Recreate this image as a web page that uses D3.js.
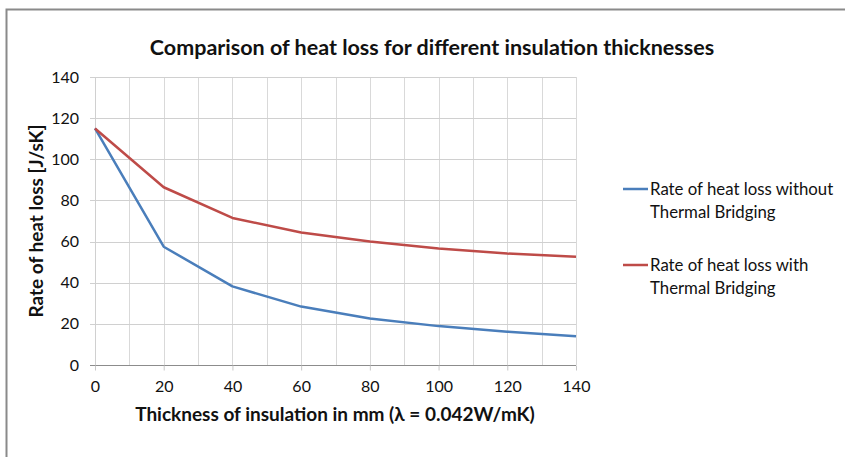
<!DOCTYPE html>
<html>
<head>
<meta charset="utf-8">
<script src="https://cdn.jsdelivr.net/npm/d3@7"></script>
<style>
  body { margin: 0; background: #fff; }
  text { font-family: Lato, "Open Sans", sans-serif; fill: #111; }
</style>
</head>
<body>
<div id="chart"></div>
<script>
// thickness of insulation (mm)
var thickness = [0, 20, 40, 60, 80, 100, 120, 140];
// rate of heat loss (J/sK)
var withoutBridging = [115, 57.5, 38.2, 28.4, 22.6, 18.9, 16.2, 14.0];
var withBridging = [115, 86.4, 71.5, 64.4, 60.0, 56.6, 54.2, 52.6];

var seriesNames = ["Rate of heat loss without Thermal Bridging", "Rate of heat loss with Thermal Bridging"];
var seriesColors = ["#4a7ebb", "#be4b48"];
var xTicks = [0, 20, 40, 60, 80, 100, 120, 140];
var yTicks = [0, 20, 40, 60, 80, 100, 120, 140];

var width = 845, height = 457;
var margin = {top: 77, left: 95, right: 269, bottom: 92};

var svg = d3.select("#chart").append("svg")
    .attr("width", width)
    .attr("height", height);

// frame border
svg.append("path")
    .attr("d", "M6.5," + height + "V9.5H" + width)
    .attr("fill", "none")
    .attr("stroke", "#8a8a8a")
    .attr("stroke-width", 2);

var x = d3.scaleLinear().domain([0, 140]).range([margin.left, width - margin.right]);
var y = d3.scaleLinear().domain([0, 140]).range([height - margin.bottom, margin.top]);

var g = svg.append("g");

// vertical gridlines every 10
g.selectAll(".vgrid")
    .data(d3.range(10, 141, 10))
    .enter().append("line")
    .attr("x1", function(d) { return Math.round(x(d)) + 0.5; })
    .attr("x2", function(d) { return Math.round(x(d)) + 0.5; })
    .attr("y1", y(140))
    .attr("y2", y(0))
    .attr("stroke", "#d9d9d9")
    .attr("stroke-width", 1);

// horizontal gridlines
g.selectAll(".hgrid")
    .data(yTicks.slice(1))
    .enter().append("line")
    .attr("x1", x(0) - 5)
    .attr("x2", x(140))
    .attr("y1", function(d) { return Math.round(y(d)) + 0.5; })
    .attr("y2", function(d) { return Math.round(y(d)) + 0.5; })
    .attr("stroke", "#d0d0d0")
    .attr("stroke-width", 1);

// y axis line
g.append("line")
    .attr("x1", Math.round(x(0)) + 0.5).attr("x2", Math.round(x(0)) + 0.5)
    .attr("y1", y(140)).attr("y2", y(0) + 5)
    .attr("stroke", "#d0d0d0");

// x axis
var xAxis = d3.axisBottom(x).tickValues(xTicks).tickSize(5).tickPadding(10);
var xg = g.append("g")
    .attr("transform", "translate(0," + (Math.round(y(0)) + 0.5) + ")")
    .call(xAxis);
xg.select(".domain").attr("stroke", "#8c8c8c").attr("d", "M" + (x(0) - 5) + ",0H" + x(140));
xg.selectAll(".tick line").attr("stroke", "#c8c8c8");
xg.selectAll(".tick text").style("font-size", "16px").attr("fill", "#111");

// y axis labels
var yAxis = d3.axisLeft(y).tickValues(yTicks).tickSize(0).tickPadding(16);
var yg = g.append("g")
    .attr("transform", "translate(" + x(0) + ",0)")
    .call(yAxis);
yg.select(".domain").remove();
yg.selectAll(".tick text").style("font-size", "16px").attr("fill", "#111");

// lines
var series = [withoutBridging, withBridging];
var line = d3.line()
    .x(function(d, i) { return x(thickness[i]); })
    .y(function(d) { return y(d); });

g.selectAll(".series")
    .data(series)
    .enter().append("path")
    .attr("d", line)
    .attr("fill", "none")
    .attr("stroke", function(d, i) { return seriesColors[i]; })
    .attr("stroke-width", 2.5)
    .attr("stroke-linejoin", "round");

// title
svg.append("text")
    .attr("x", 432)
    .attr("y", 55)
    .attr("text-anchor", "middle")
    .style("font-size", "21.5px")
    .style("font-weight", "bold")
    .text("Comparison of heat loss for different insulation thicknesses");

// axis titles
svg.append("text")
    .attr("x", 335)
    .attr("y", 421)
    .attr("text-anchor", "middle")
    .style("font-size", "19px")
    .style("font-weight", "bold")
    .text("Thickness of insulation in mm (\u03bb = 0.042W/mK)");

svg.append("text")
    .attr("transform", "translate(43," + y(70) + ") rotate(-90)")
    .attr("text-anchor", "middle")
    .style("font-size", "19px")
    .style("font-weight", "bold")
    .text("Rate of heat loss [J/sK]");

// legend
var legendY = [189, 265];
var legend = svg.selectAll(".legend")
    .data(seriesNames)
    .enter().append("g")
    .attr("transform", function(d, i) { return "translate(623," + legendY[i] + ")"; });

legend.append("line")
    .attr("x1", 0).attr("x2", 25)
    .attr("y1", 0).attr("y2", 0)
    .attr("stroke", function(d, i) { return seriesColors[i]; })
    .attr("stroke-width", 2.5);

legend.append("text")
    .attr("x", 27)
    .attr("y", 6)
    .style("font-size", "16.8px")
    .each(function(d) {
        var parts = d.split(" Thermal");
        d3.select(this).append("tspan").attr("x", 27).text(parts[0]);
        d3.select(this).append("tspan").attr("x", 27).attr("dy", 23).text("Thermal" + parts[1]);
    });
</script>
</body>
</html>
